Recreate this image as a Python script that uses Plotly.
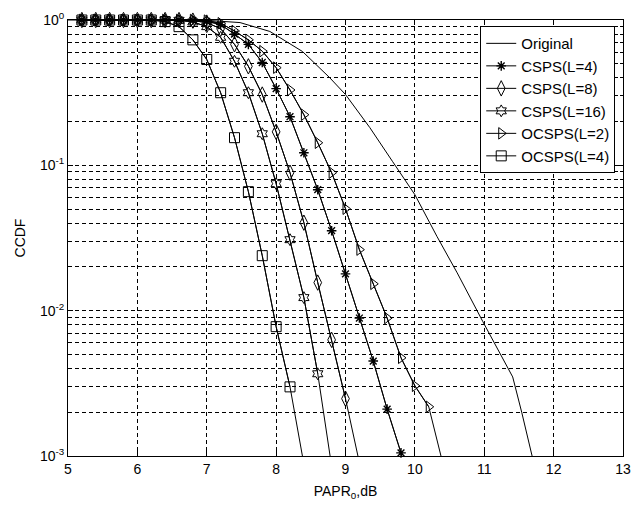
import plotly.graph_objects as go

# ---------------- data ----------------
orig_x = [5.0, 6.0, 7.0, 7.48, 7.91, 8.38, 8.77, 9.0, 9.35, 9.68, 9.88, 10.0,
          10.32, 10.61, 10.98, 11.41, 11.54, 11.70, 11.8]
orig_y = [1.0, 1.0, 0.995, 0.96, 0.834, 0.607, 0.402, 0.307, 0.182, 0.106, 0.076,
          0.0628, 0.0323, 0.0182, 0.0084, 0.0035, 0.0020, 0.001, 0.0006]

csps4_x = [5.2, 5.4, 5.6, 5.8, 6.0, 6.2, 6.4, 6.6, 6.8, 7.0, 7.2, 7.4, 7.6, 7.8,
           8.0, 8.2, 8.4, 8.6, 8.8, 9.0, 9.2, 9.4, 9.6, 9.8, 10.0]
csps4_y = [1.0, 1.0, 1.0, 1.0, 1.0, 1.0, 1.0, 1.0, 0.995, 0.98, 0.93, 0.80, 0.68,
           0.51, 0.337, 0.216, 0.122, 0.068, 0.0355, 0.0179, 0.0089, 0.0045,
           0.0021, 0.00105, 0.00045]

csps8_x = [5.2, 5.4, 5.6, 5.8, 6.0, 6.2, 6.4, 6.6, 6.8, 7.0, 7.2, 7.4, 7.6, 7.8,
           8.0, 8.2, 8.4, 8.6, 8.8, 9.0, 9.2]
csps8_y = [1.0, 1.0, 1.0, 1.0, 1.0, 1.0, 1.0, 1.0, 0.99, 0.96, 0.87, 0.68, 0.48,
           0.307, 0.17, 0.089, 0.0403, 0.0156, 0.0063, 0.00248, 0.0009]

csps16_x = [5.2, 5.4, 5.6, 5.8, 6.0, 6.2, 6.4, 6.6, 6.8, 7.0, 7.2, 7.4, 7.6, 7.8,
            8.0, 8.2, 8.4, 8.6, 8.8]
csps16_y = [1.0, 1.0, 1.0, 1.0, 1.0, 1.0, 1.0, 0.995, 0.97, 0.90, 0.76, 0.52,
            0.316, 0.165, 0.0748, 0.0308, 0.0123, 0.00368, 0.00085]

ocsps2_x = [5.2, 5.4, 5.6, 5.8, 6.0, 6.2, 6.4, 6.6, 6.8, 7.0, 7.2, 7.4, 7.6, 7.8,
            8.0, 8.2, 8.4, 8.6, 8.8, 9.0, 9.2, 9.4, 9.6, 9.8, 10.0, 10.2, 10.4]
ocsps2_y = [1.0, 1.0, 1.0, 1.0, 1.0, 1.0, 1.0, 1.0, 1.0, 0.99, 0.95, 0.84, 0.73,
            0.61, 0.47, 0.33, 0.223, 0.143, 0.089, 0.0503, 0.0263, 0.0153,
            0.0089, 0.00474, 0.00304, 0.00218, 0.0009]

ocsps4_x = [5.2, 5.4, 5.6, 5.8, 6.0, 6.2, 6.4, 6.6, 6.8, 7.0, 7.2, 7.4, 7.6, 7.8,
            8.0, 8.2, 8.4]
ocsps4_y = [1.0, 1.0, 1.0, 1.0, 1.0, 1.0, 0.975, 0.90, 0.73, 0.535, 0.316, 0.155,
            0.0659, 0.0239, 0.00776, 0.00299, 0.00088]

names = ["Original", "CSPS(L=4)", "CSPS(L=8)", "CSPS(L=16)", "OCSPS(L=2)", "OCSPS(L=4)"]

x_ticks = [5, 6, 7, 8, 9, 10, 11, 12, 13]
y_major = [1e-3, 1e-2, 1e-1, 1.0]
y_major_text = ["10<sup>-3</sup>", "10<sup>-2</sup>", "10<sup>-1</sup>", "10<sup>0</sup>"]
y_minor_digits = [2, 3, 4, 5, 6, 7, 8, 9]

# ---------------- figure ----------------
fig = go.Figure()

fig.add_trace(go.Scatter(x=orig_x, y=orig_y, mode="lines", name=names[0],
                         line=dict(color="black", width=1)))

series = [
    (csps4_x, csps4_y, names[1], "asterisk-open", 8, 1.4),
    (csps8_x, csps8_y, names[2], "diamond-tall-open", 11, 1),
    (csps16_x, csps16_y, names[3], "hexagram-open", 9, 1),
    (ocsps2_x, ocsps2_y, names[4], "triangle-right-open", 10, 1),
    (ocsps4_x, ocsps4_y, names[5], "square-open", 10, 1),
]

for xs, ys, nm, sym, sz, lw in series:
    # full curve (clipped at the axes)
    fig.add_trace(go.Scatter(x=xs, y=ys, mode="lines", showlegend=False,
                             line=dict(color="black", width=1), hoverinfo="skip"))
    # in-range points with markers (not clipped, so the top row is fully drawn)
    vx = [a for a, b in zip(xs, ys) if b >= 1e-3]
    vy = [b for b in ys if b >= 1e-3]
    fig.add_trace(go.Scatter(x=vx, y=vy, mode="lines+markers", name=nm,
                             cliponaxis=False,
                             line=dict(color="black", width=1),
                             marker=dict(symbol=sym, size=sz, color="black",
                                         line=dict(color="black", width=lw))))

y_minor_vals = [round(k * d, 6) for d in y_major[:-1] for k in y_minor_digits]

font_family = "Liberation Sans, Arial, sans-serif"

fig.update_layout(
    width=631, height=508,
    margin=dict(l=68, r=8, t=20, b=52),
    paper_bgcolor="white", plot_bgcolor="white",
    font=dict(family=font_family, size=14, color="black"),
    showlegend=True,
    legend=dict(x=0.986, y=0.986, xanchor="right", yanchor="top",
                bgcolor="white", bordercolor="black", borderwidth=1,
                font=dict(family=font_family, size=15, color="black"),
                tracegroupgap=0, itemwidth=30),
    hovermode=False,
)

fig.update_xaxes(
    range=[5, 13], tickvals=x_ticks, ticktext=[str(t) for t in x_ticks],
    automargin=False,
    showgrid=True, gridcolor="black", gridwidth=1, griddash="4px,3px",
    showline=True, linecolor="black", linewidth=1, mirror="ticks",
    ticks="inside", ticklen=5, tickcolor="black", zeroline=False,
    tickfont=dict(size=14),
    title=dict(text="PAPR<sub>0</sub>,dB", font=dict(size=14), standoff=10),
)
fig.update_yaxes(
    type="log", range=[-3, 0], tickvals=y_major, ticktext=y_major_text,
    automargin=False,
    showgrid=True, gridcolor="black", gridwidth=1, griddash="4px,3px",
    showline=True, linecolor="black", linewidth=1, mirror="ticks",
    ticks="inside", ticklen=5, tickcolor="black", zeroline=False,
    tickfont=dict(size=14),
    minor=dict(tickvals=y_minor_vals, showgrid=True, gridcolor="black",
               gridwidth=1, griddash="4px,3px", ticks="inside", ticklen=3,
               tickcolor="black"),
    title=dict(text="CCDF", font=dict(size=14), standoff=11),
)

# remove the default page margin so the 631x508 figure fills the window exactly
fig.write_html("out.html",
               config={"displayModeBar": False},
               post_script="document.body.style.margin='0';document.body.style.overflow='hidden';")
